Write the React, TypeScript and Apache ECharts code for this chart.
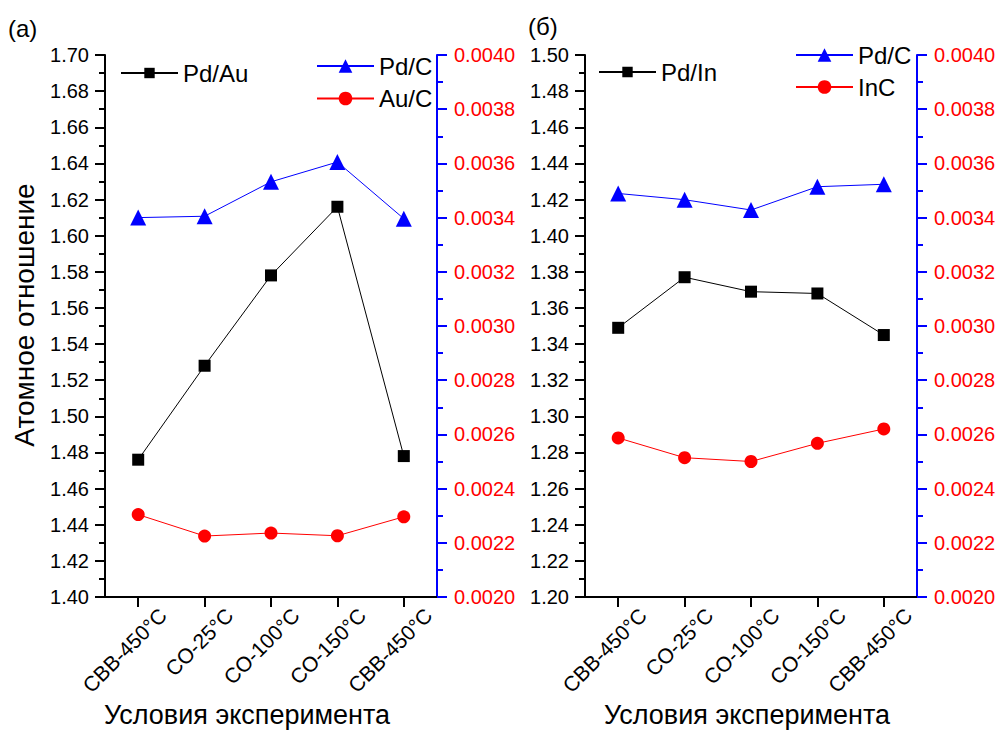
import React, { useEffect, useRef } from "react";
import * as echarts from "echarts";

const categories = ["CBB-450°C", "CO-25°C", "CO-100°C", "CO-150°C", "CBB-450°C"];

// Panel (a)
const pdAu = [1.476, 1.528, 1.578, 1.616, 1.478];
const pdCLeft = [0.0034, 0.003405, 0.003532, 0.003605, 0.003396];
const auC = [0.002304, 0.002225, 0.002236, 0.002226, 0.002296];

// Panel (б)
const pdIn = [1.349, 1.377, 1.369, 1.368, 1.345];
const pdCRight = [0.003489, 0.003466, 0.003428, 0.003514, 0.003523];
const inC = [0.002587, 0.002514, 0.002500, 0.002567, 0.002620];

const FONT = "Liberation Sans";

function makeX(gridIndex: number, namePadRight: number) {
  return {
    type: "category",
    gridIndex,
    data: categories,
    boundaryGap: true,
    axisLine: { show: true, lineStyle: { color: "#000", width: 2 } },
    axisTick: { show: true, alignWithLabel: true, length: 10, lineStyle: { color: "#000", width: 2 } },
    axisLabel: {
      rotate: 45,
      interval: 0,
      fontSize: 21,
      fontFamily: FONT,
      color: "#000",
      margin: -10,
      verticalAlign: "top",
      lineHeight: 70,
    },
    name: "Условия эксперимента",
    nameLocation: "middle",
    nameGap: 104,
    nameMoveOverlap: false,
    nameTextStyle: { fontSize: 27, fontFamily: FONT, color: "#000", padding: [0, namePadRight, 0, 0] },
  };
}

function makeLeftY(gridIndex: number, min: number, max: number, withName: boolean) {
  return {
    type: "value",
    gridIndex,
    position: "left",
    min,
    max,
    interval: 0.02,
    splitLine: { show: false },
    axisLine: { show: true, onZero: false, lineStyle: { color: "#000", width: 2 } },
    axisTick: { show: true, length: 10, lineStyle: { color: "#000", width: 2 } },
    minorTick: { show: true, splitNumber: 2, length: 6, lineStyle: { color: "#000", width: 2 } },
    axisLabel: {
      fontSize: 20,
      fontFamily: FONT,
      color: "#000",
      margin: 16,
      formatter: (v: number) => v.toFixed(2),
    },
    name: withName ? "Атомное отношение" : "",
    nameLocation: "middle",
    nameGap: 67,
    nameMoveOverlap: false,
    nameTextStyle: { fontSize: 28, fontFamily: FONT, color: "#000", padding: [0, 0, 0, 22] },
  };
}

function makeRightY(gridIndex: number) {
  return {
    type: "value",
    gridIndex,
    position: "right",
    min: 0.002,
    max: 0.004,
    interval: 0.0002,
    splitLine: { show: false },
    axisLine: { show: true, onZero: false, lineStyle: { color: "#0000ff", width: 2 } },
    axisTick: { show: true, length: 10, lineStyle: { color: "#0000ff", width: 2 } },
    minorTick: { show: true, splitNumber: 2, length: 6, lineStyle: { color: "#0000ff", width: 2 } },
    axisLabel: {
      fontSize: 20,
      fontFamily: FONT,
      color: "#ff0000",
      margin: 17,
      formatter: (v: number) => v.toFixed(4),
    },
  };
}

function lineSeries(name: string, data: number[], xi: number, yi: number, color: string, symbol: string, size: number) {
  return {
    type: "line",
    name,
    data,
    xAxisIndex: xi,
    yAxisIndex: yi,
    symbol,
    symbolSize: size,
    showAllSymbol: true,
    itemStyle: { color },
    lineStyle: { color, width: 1 },
  };
}

const legendCommon = {
  itemWidth: 57,
  itemHeight: 17,
  textStyle: { fontSize: 24, fontFamily: FONT, color: "#000", lineHeight: 26 },
  selectedMode: false,
};

export default function App() {
  const ref = useRef<HTMLDivElement>(null);
  useEffect(() => {
    if (!ref.current) return;
    const chart = echarts.init(ref.current, null, { renderer: "svg" });
    chart.setOption({
      animation: false,
      backgroundColor: "#fff",
      textStyle: { fontFamily: FONT },
      grid: [
        { left: 105, right: 561, top: 55, bottom: 134, containLabel: false, outerBoundsMode: "none" },
        { left: 585, right: 81, top: 55, bottom: 134, containLabel: false, outerBoundsMode: "none" },
      ],
      xAxis: [makeX(0, 48), makeX(1, 8)],
      yAxis: [
        makeLeftY(0, 1.4, 1.7, true),
        makeRightY(0),
        makeLeftY(1, 1.2, 1.5, false),
        makeRightY(1),
      ],
      legend: [
        { ...legendCommon, itemHeight: 13, data: ["Pd/Au"], left: 115, top: 55 },
        { ...legendCommon, data: ["Pd/C", "Au/C"], orient: "vertical", left: 311, top: 48, itemGap: 6.5 },
        { ...legendCommon, itemHeight: 13, data: ["Pd/In"], left: 593, top: 54 },
        { ...legendCommon, data: ["Pd/C", "InC"], orient: "vertical", left: 790, top: 37, itemGap: 6 },
      ],
      series: [
        lineSeries("Pd/C", pdCLeft, 0, 1, "#0000ff", "triangle", 16),
        lineSeries("Pd/Au", pdAu, 0, 0, "#000000", "rect", 12),
        lineSeries("Au/C", auC, 0, 1, "#ff0000", "circle", 13),
        lineSeries("Pd/C", pdCRight, 1, 3, "#0000ff", "triangle", 16),
        lineSeries("Pd/In", pdIn, 1, 2, "#000000", "rect", 12),
        lineSeries("InC", inC, 1, 3, "#ff0000", "circle", 13),
      ],
      graphic: [
        { type: "text", left: 8, top: 16, style: { text: "(a)", fontSize: 24, fontFamily: FONT, fill: "#000" } },
        { type: "text", left: 528, top: 14, style: { text: "(б)", fontSize: 24, fontFamily: FONT, fill: "#000" } },
      ],
    });
    return () => chart.dispose();
  }, []);
  return <div ref={ref} style={{ position: "fixed", left: 0, top: 0, width: 998, height: 731 }} />;
}
